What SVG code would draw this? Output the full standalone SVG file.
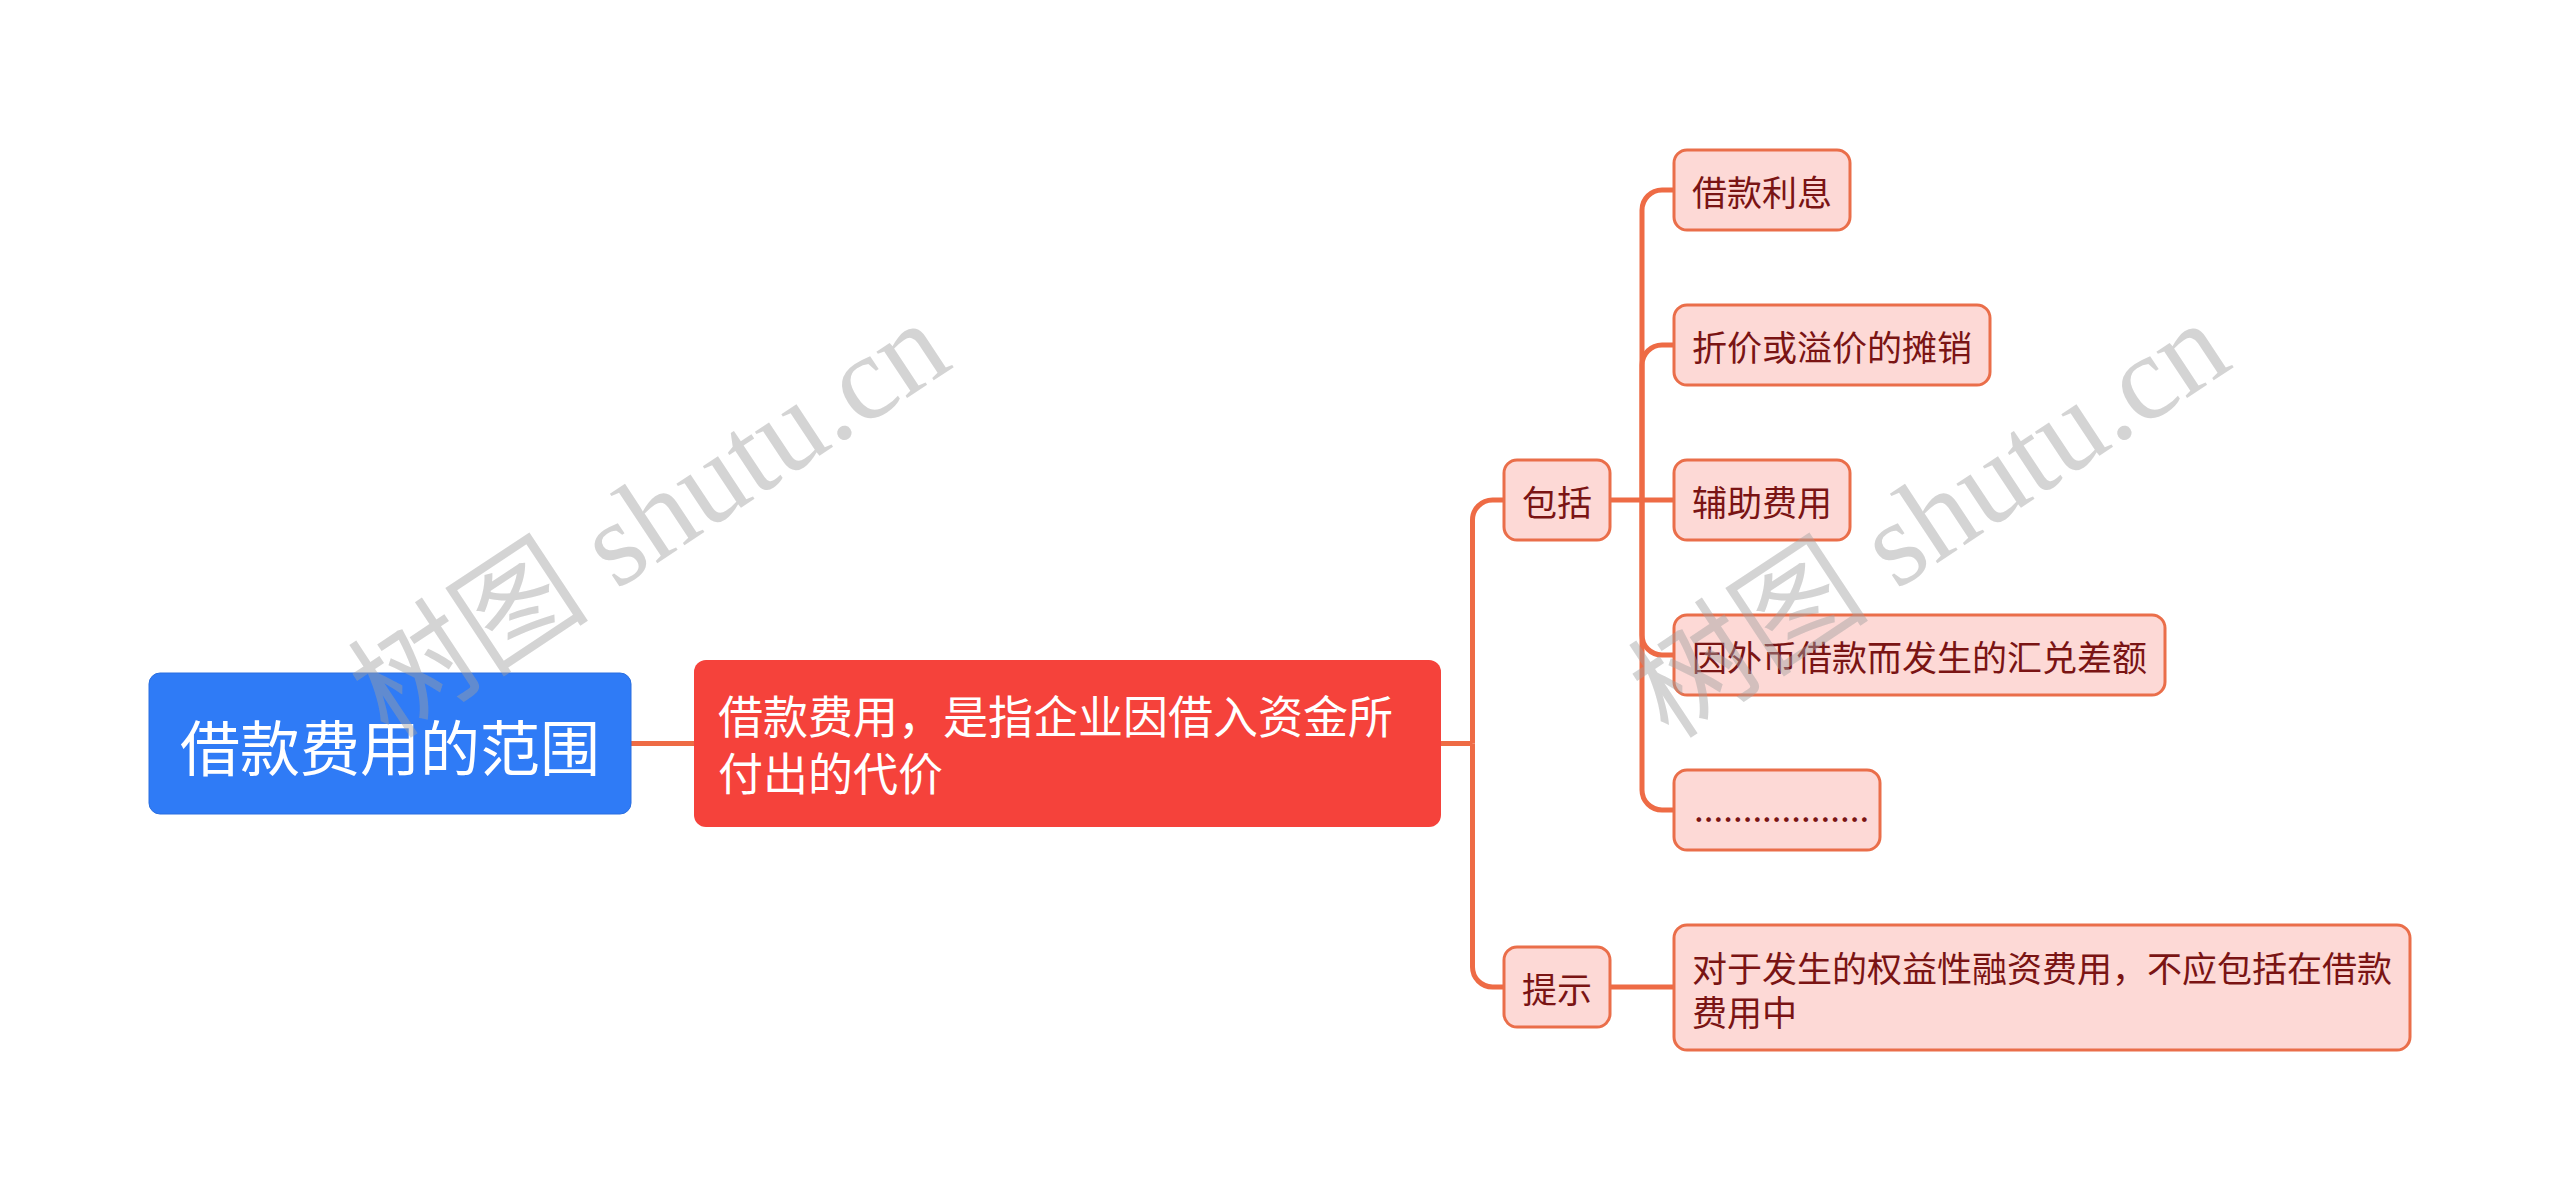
<svg xmlns="http://www.w3.org/2000/svg" width="2560" height="1200" viewBox="0 0 2560 1200">
<style>
.wm{font-family:"Liberation Serif","Noto Sans CJK SC",serif;font-size:121px;fill:#a0a0a0;fill-opacity:0.45;}
.conn{fill:none;stroke:#ee6b45;stroke-width:5;stroke-linecap:butt;}
.leaf rect{fill:#fdd9d6;stroke:#ea6e4a;stroke-width:3;}
.leaf text{font-family:"Noto Sans CJK SC","Liberation Sans",sans-serif;font-size:35px;fill:#7a1414;dominant-baseline:central;}
.dots{font-family:"Liberation Sans",sans-serif;font-size:35px;fill:#7a1414;}
.white{font-family:"Noto Sans CJK SC","Liberation Sans",sans-serif;fill:#ffffff;dominant-baseline:central;}
</style>
<rect width="2560" height="1200" fill="#ffffff"/>
<g id="connectors">
<path class="conn" d="M631,743.5 H694"/>
<path class="conn" d="M1441,743.5 H1472.5"/>
<path class="conn" d="M1472.5,743.5 V520 A20,20 0 0 1 1492.5,500 H1504"/>
<path class="conn" d="M1472.5,743.5 V967 A20,20 0 0 0 1492.5,987 H1504"/>
<path class="conn" d="M1610,500 H1674"/>
<path class="conn" d="M1642,500 V210 A20,20 0 0 1 1662,190 H1674"/>
<path class="conn" d="M1642,500 V365 A20,20 0 0 1 1662,345 H1674"/>
<path class="conn" d="M1642,500 V635 A20,20 0 0 0 1662,655 H1674"/>
<path class="conn" d="M1642,500 V790 A20,20 0 0 0 1662,810 H1674"/>
<path class="conn" d="M1610,987 H1674"/>
</g>
<g id="root">
<rect x="149" y="673" width="482" height="141" rx="11" fill="#2f7bf6" stroke="#2a6fe0" stroke-width="1"/>
<text class="white" x="390" y="744" font-size="60" text-anchor="middle">借款费用的范围</text>
</g>
<g id="main">
<rect x="694" y="660" width="747" height="167" rx="12" fill="#f5423b"/>
<text class="white" font-size="45"><tspan x="718" y="714">借款费用，是指企业因借入资金所</tspan><tspan x="718" y="771">付出的代价</tspan></text>
</g>
<g id="baokuo" class="leaf">
<rect x="1504" y="460" width="106" height="80" rx="13"/>
<text x="1522" y="500">包括</text>
</g>
<g id="tishi" class="leaf">
<rect x="1504" y="947" width="106" height="80" rx="13"/>
<text x="1522" y="987">提示</text>
</g>
<g id="leaf1" class="leaf">
<rect x="1674" y="150" width="176" height="80" rx="13"/>
<text x="1692" y="190">借款利息</text>
</g>
<g id="leaf2" class="leaf">
<rect x="1674" y="305" width="316" height="80" rx="13"/>
<text x="1692" y="345">折价或溢价的摊销</text>
</g>
<g id="leaf3" class="leaf">
<rect x="1674" y="460" width="176" height="80" rx="13"/>
<text x="1692" y="500">辅助费用</text>
</g>
<g id="leaf4" class="leaf">
<rect x="1674" y="615" width="491" height="80" rx="13"/>
<text x="1692" y="655">因外币借款而发生的汇兑差额</text>
</g>
<g id="leaf5" class="leaf">
<rect x="1674" y="770" width="206" height="80" rx="13"/>
<text class="dots" x="1694" y="822" style="dominant-baseline:auto">..................</text>
</g>
<g id="leaf6" class="leaf">
<rect x="1674" y="925" width="736" height="125" rx="13"/>
<text><tspan x="1692" y="966">对于发生的权益性融资费用，不应包括在借款</tspan><tspan x="1692" y="1010">费用中</tspan></text>
</g>
<g id="watermarks">
<text class="wm" text-anchor="middle" transform="translate(650,520) rotate(-33.5)" x="0" y="40">树图 shutu.cn</text>
<text class="wm" text-anchor="middle" transform="translate(1930,520) rotate(-33.5)" x="0" y="40">树图 shutu.cn</text>
</g>
</svg>
